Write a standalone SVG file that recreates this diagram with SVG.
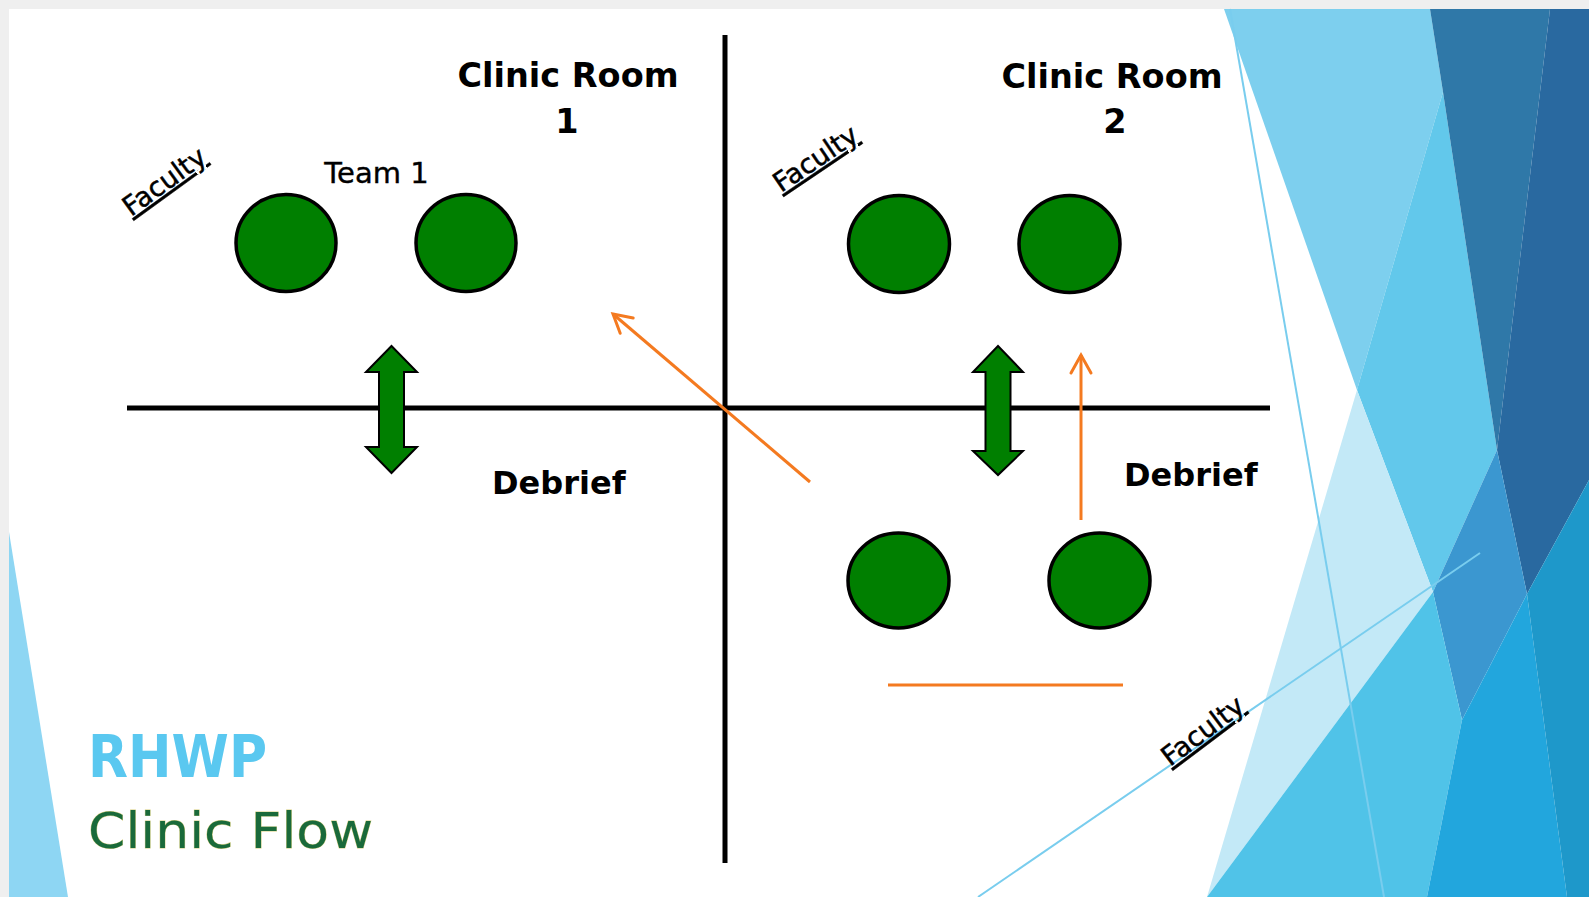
<svg xmlns="http://www.w3.org/2000/svg" width="1589" height="897" viewBox="0 0 1589 897">
  <style>
    .room { font-family: "DejaVu Sans", "Liberation Sans", sans-serif; font-weight: bold; font-size: 33.5px; fill: #000; text-anchor: middle; }
    .debrief { font-family: "DejaVu Sans", "Liberation Sans", sans-serif; font-weight: bold; font-size: 32px; fill: #000; }
    .team { font-family: "DejaVu Sans", "Liberation Sans", sans-serif; font-size: 29px; fill: #000; stroke: #000; stroke-width: 0.4; text-anchor: middle; }
    .faculty { font-family: "DejaVu Sans", "Liberation Sans", sans-serif; font-size: 27px; fill: #000; stroke: #000; stroke-width: 0.5; text-decoration: underline; }
    .person { fill: #007f00; stroke: #000; stroke-width: 3.5; }
    .dbl { fill: #007f00; stroke: #000; stroke-width: 2; stroke-linejoin: miter; }
    .wall { stroke: #000; stroke-width: 5; fill: none; }
    .flow { stroke: #f47a20; stroke-width: 3; fill: none; }
    .thin { stroke: #79cdee; stroke-width: 2; fill: none; }
  </style>
  <defs>
    <marker id="openArrow" markerUnits="userSpaceOnUse" markerWidth="30" markerHeight="30" viewBox="-25 -15 30 30" refX="0" refY="0" orient="auto">
      <path d="M -18,-10 L 0,0 L -18,10" fill="none" stroke="#f47a20" stroke-width="3" stroke-linecap="round" stroke-linejoin="miter"/>
    </marker>
  </defs>

  <!-- slide background -->
  <g id="background">
    <rect x="0" y="0" width="1589" height="897" fill="#efefef"/>
    <rect x="9" y="9" width="1580" height="888" fill="#ffffff"/>
    <polygon points="9,532 68,897 9,897" fill="#8ed6f3"/>
    <!-- right facets -->
    <polygon points="1224,9 1430,9 1443,92 1357,390" fill="#7dcfee"/>
    <polygon points="1443,92 1497,450 1433,592 1357,390" fill="#62c8eb"/>
    <polygon points="1357,390 1433,592 1207,897" fill="#c3e9f7"/>
    <polygon points="1430,9 1550,9 1497,450 1443,92" fill="#2f78a8"/>
    <polygon points="1550,9 1589,9 1589,480 1527,594 1497,450" fill="#2969a0"/>
    <polygon points="1497,450 1527,594 1462,720 1433,592" fill="#3b97d0"/>
    <polygon points="1207,897 1433,592 1462,720 1427,897" fill="#50c3e8"/>
    <polygon points="1427,897 1462,720 1527,594 1567,897" fill="#22a6dd"/>
    <polygon points="1527,594 1589,480 1589,897 1567,897" fill="#1e98ca"/>
    <line class="thin" x1="1230" y1="9" x2="1384" y2="897"/>
    <line class="thin" x1="978" y1="897" x2="1480" y2="553"/>
  </g>

  <!-- walls and flow connectors -->
  <g id="connectors">
    <line class="wall" x1="725" y1="35" x2="725" y2="863"/>
    <line class="wall" x1="127" y1="408" x2="1270" y2="408"/>
    <line class="flow" x1="810" y1="482" x2="613" y2="314" marker-end="url(#openArrow)"/>
    <line class="flow" x1="1081" y1="520" x2="1081" y2="355" marker-end="url(#openArrow)"/>
    <line class="flow" x1="888" y1="685" x2="1123" y2="685"/>
    <polygon id="swap1" class="dbl" points="391.5,346 417,372 404,372 404,447 417,447 391.5,473 366,447 379,447 379,372 366,372"/>
    <polygon id="swap2" class="dbl" points="998,346 1023,372 1010.5,372 1010.5,451 1023,451 998,475 973,451 985.5,451 985.5,372 973,372"/>
  </g>

  <g id="room1-label">
    <text class="room" x="568" y="87">Clinic Room</text>
    <text class="room" x="567" y="133">1</text>
  </g>
  <g id="room2-label">
    <text class="room" x="1112" y="88">Clinic Room</text>
    <text class="room" x="1115" y="133">2</text>
  </g>
  <g id="team1-label">
    <text class="team" x="376.5" y="183">Team 1</text>
  </g>

  <g id="faculty1"><text class="faculty" transform="translate(131,217) rotate(-36)">Faculty</text></g>
  <g id="faculty2"><text class="faculty" transform="translate(781,193) rotate(-34)">Faculty</text></g>
  <g id="faculty3"><text class="faculty" transform="translate(1170,767) rotate(-37)">Faculty</text></g>

  <g id="p1"><ellipse class="person" cx="286" cy="243" rx="50" ry="48.5"/></g>
  <g id="p2"><ellipse class="person" cx="466" cy="243" rx="50" ry="48.5"/></g>
  <g id="p3"><ellipse class="person" cx="899" cy="244" rx="50.5" ry="48.5"/></g>
  <g id="p4"><ellipse class="person" cx="1069.5" cy="244" rx="50.5" ry="48.5"/></g>
  <g id="p5"><ellipse class="person" cx="898.5" cy="580.5" rx="50.5" ry="47.5"/></g>
  <g id="p6"><ellipse class="person" cx="1099.5" cy="580.5" rx="50.5" ry="47.5"/></g>

  <g id="debrief1"><text class="debrief" x="492" y="494">Debrief</text></g>
  <g id="debrief2"><text class="debrief" x="1124" y="486">Debrief</text></g>

  <g id="title">
    <text x="88" y="777" font-family="'DejaVu Sans', 'Liberation Sans', sans-serif" font-weight="bold" font-size="58" fill="#5ac8f0" textLength="179" lengthAdjust="spacingAndGlyphs">RHWP</text>
    <text x="88" y="848" font-family="'DejaVu Sans', 'Liberation Sans', sans-serif" font-size="50" fill="#1a6a3a" stroke="#d9cf82" stroke-width="0.8" paint-order="stroke" textLength="285" lengthAdjust="spacingAndGlyphs">Clinic Flow</text>
  </g>
</svg>
